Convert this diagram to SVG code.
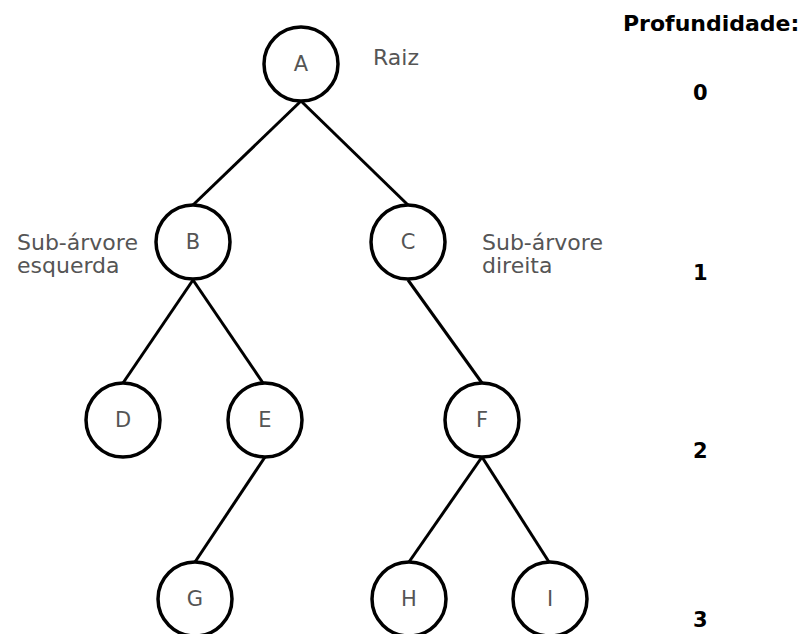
<svg xmlns="http://www.w3.org/2000/svg" width="804" height="634" viewBox="0 0 804 634">
  <style>
    .node circle { fill: #ffffff; stroke: #000000; stroke-width: 3.5; }
    .node text { font-family: "DejaVu Sans", sans-serif; font-size: 21px; fill: #555555; text-anchor: middle; dominant-baseline: central; }
    .edges line { stroke: #000000; stroke-width: 3; }
    .label { font-family: "DejaVu Sans", sans-serif; font-size: 22px; fill: #555555; }
    .depth { font-family: "DejaVu Sans", sans-serif; font-size: 21px; font-weight: bold; fill: #000000; }
  </style>
  <rect width="804" height="634" fill="#ffffff"/>

  <!-- tree edges: parent bottom to child top -->
  <g class="edges">
    <line x1="301" y1="101" x2="193" y2="205"/>
    <line x1="301" y1="101" x2="408" y2="205"/>
    <line x1="193" y1="280" x2="123" y2="383"/>
    <line x1="193" y1="280" x2="263" y2="383"/>
    <line x1="408" y1="280" x2="482" y2="383"/>
    <line x1="265" y1="457" x2="195" y2="562"/>
    <line x1="482" y1="457" x2="409" y2="562"/>
    <line x1="482" y1="457" x2="549" y2="562"/>
  </g>

  <g id="node-A" class="node"><circle cx="301" cy="64" r="37"/><text x="301" y="64">A</text></g>
  <g id="node-B" class="node"><circle cx="193" cy="242" r="37"/><text x="193" y="242">B</text></g>
  <g id="node-C" class="node"><circle cx="408" cy="242" r="37"/><text x="408" y="242">C</text></g>
  <g id="node-D" class="node"><circle cx="123" cy="420" r="37"/><text x="123" y="420">D</text></g>
  <g id="node-E" class="node"><circle cx="265" cy="420" r="37"/><text x="265" y="420">E</text></g>
  <g id="node-F" class="node"><circle cx="482" cy="420" r="37"/><text x="482" y="420">F</text></g>
  <g id="node-G" class="node"><circle cx="195" cy="599" r="37"/><text x="195" y="599">G</text></g>
  <g id="node-H" class="node"><circle cx="409" cy="599" r="37"/><text x="409" y="599">H</text></g>
  <g id="node-I" class="node"><circle cx="550" cy="599" r="37"/><text x="550" y="599">I</text></g>

  <!-- annotations -->
  <text class="label" x="373" y="65">Raiz</text>
  <text class="label" x="17" y="250">Sub-árvore</text>
  <text class="label" x="17" y="273">esquerda</text>
  <text class="label" x="482" y="250">Sub-árvore</text>
  <text class="label" x="482" y="273">direita</text>

  <!-- depth column -->
  <text class="depth" x="623" y="31" style="font-size:22px">Profundidade:</text>
  <text class="depth" x="693" y="100">0</text>
  <text class="depth" x="693" y="280">1</text>
  <text class="depth" x="693" y="458">2</text>
  <text class="depth" x="693" y="627">3</text>
</svg>
